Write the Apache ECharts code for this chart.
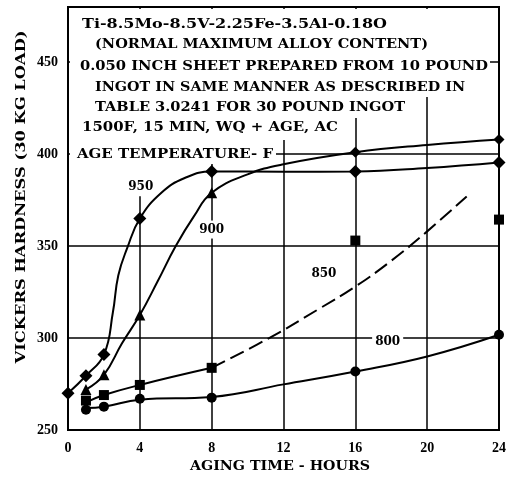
<!DOCTYPE html>
<html>
<head>
<meta charset="utf-8">
<script src="https://cdn.jsdelivr.net/npm/echarts@6/dist/echarts.min.js"></script>
<style>
  html, body { margin: 0; padding: 0; background: #fff; }
  #chart { width: 509px; height: 478px; }
</style>
</head>
<body>
<div id="chart"></div>
<script>
// aging time (hours) vs vickers hardness
var curve950 = [[0, 270], [1, 279.5], [2, 291], [2.5, 314], [2.8, 334], [3.3, 349], [4, 365], [5.2, 379], [6.5, 387], [8, 390.6], [12, 390.4], [16, 390.6], [20, 392.5], [24, 395.5]];
var curve900 = [[1, 272], [2, 280], [3, 297], [4, 312.5], [5, 331], [6, 350], [7, 366], [8, 379], [10, 389], [12, 394.5], [16, 401], [20, 405], [24, 408]];
var curve850 = [[1, 265], [2, 269], [4, 274.5], [8, 283.8]];
var curve850fit = [[8, 283.8], [11.2, 300], [14, 316], [16, 328], [18, 342], [20, 358], [22.2, 377]];
var curve800 = [[1, 262], [2, 262.7], [4, 266.5], [8, 268], [12, 274.8], [16, 281.8], [20, 290], [24, 301.8]];

var points950 = [[0, 270], [1, 279.5], [2, 291], [4, 365], [8, 390.6], [16, 390.6], [24, 395.5]];
var points900 = [[1, 272], [2, 280], [4, 312.5], [8, 379], [16, 401], [24, 408]];
var points850 = [[1, 266], [2, 269], [4, 274.5], [8, 283.8], [16, 353], [24, 364.4]];
var points800 = [[1, 261], [2, 262.7], [4, 267], [8, 267.6], [16, 281.8], [24, 301.8]];

var curveLabels = [["950", [4.05, 382]], ["900", [8, 359]], ["850", [14.25, 335]], ["800", [17.8, 298]]];

var noteLines = [
  "Ti-8.5Mo-8.5V-2.25Fe-3.5Al-0.18O",
  "(NORMAL MAXIMUM ALLOY CONTENT)",
  "0.050 INCH SHEET PREPARED FROM 10 POUND",
  "INGOT IN SAME MANNER AS DESCRIBED IN",
  "TABLE 3.0241 FOR 30 POUND INGOT",
  "1500F, 15 MIN, WQ + AGE, AC",
  "AGE TEMPERATURE- F"
];

var SERIF = "DejaVu Serif";
var TIMES = "Liberation Serif";

var chart = echarts.init(document.getElementById("chart"));

function curve(data, dashed) {
  return {
    type: "line",
    data: data,
    smooth: 0.45,
    showSymbol: false,
    silent: true,
    z: 3,
    lineStyle: { color: "#000", width: 2, type: dashed ? [15, 6] : "solid" }
  };
}

function marks(data, symbol, size) {
  return {
    type: "scatter",
    data: data,
    symbol: symbol,
    symbolSize: size,
    z: 4,
    itemStyle: { color: "#000", opacity: 1 }
  };
}

chart.setOption({
  animation: false,
  backgroundColor: "#fff",
  grid: {
    left: 68, right: 3, top: 7, bottom: 48,
    show: true, borderColor: "#000", borderWidth: 2
  },
  xAxis: {
    type: "value",
    min: 0, max: 24, interval: 4,
    axisLine: { lineStyle: { color: "#000", width: 2 } },
    axisTick: { show: false },
    splitLine: { lineStyle: { color: "#000", width: 1.5 } },
    axisLabel: { color: "#000", fontFamily: TIMES, fontWeight: "bold", fontSize: 14, margin: 11 }
  },
  yAxis: {
    type: "value",
    min: 250, max: 480, interval: 50,
    axisLine: { show: true, lineStyle: { color: "#000", width: 2 } },
    axisTick: { show: false },
    splitLine: { lineStyle: { color: "#000", width: 1.5 } },
    axisLabel: {
      color: "#000", fontFamily: TIMES, fontWeight: "bold", fontSize: 14, margin: 10,
      showMaxLabel: false,
      formatter: function (v) { return v % 50 === 0 ? String(v) : ""; }
    }
  },
  series: [
    curve(curve950),
    curve(curve900),
    curve(curve850),
    curve(curve850fit, true),
    curve(curve800),
    marks(points950, "diamond", 13),
    marks(points900, function (v) { return v[0] >= 16 ? "diamond" : "triangle"; }, 11),
    marks(points850, "rect", 10),
    marks(points800, "circle", 10)
  ]
});

// stretch text to the width it has in the scan
var ctx = document.createElement("canvas").getContext("2d");
function stretch(text, size, family, width) {
  ctx.font = "bold " + size + "px " + family;
  return width / ctx.measureText(text).width;
}

// note block sits on a white patch that hides the grid behind it
var graphics = [
  { type: "rect", z: 1, shape: { x: 70, y: 9, width: 420, height: 88 }, style: { fill: "#fff" } },
  { type: "rect", z: 1, shape: { x: 70, y: 96, width: 337, height: 22 }, style: { fill: "#fff" } },
  { type: "rect", z: 1, shape: { x: 70, y: 117, width: 270, height: 23 }, style: { fill: "#fff" } },
  { type: "rect", z: 1, shape: { x: 70, y: 139, width: 206, height: 25 }, style: { fill: "#fff" } },
  { type: "rect", z: 1, shape: { x: 128, y: 163, width: 28, height: 32 }, style: { fill: "#fff" } }
];
var noteX = [82, 95, 80, 95, 95, 82, 77];
var noteY = [25, 45, 67, 88, 108, 128, 155];
var noteW = [305, 333, 408, 370, 310, 256, 196];
noteLines.forEach(function (t, i) {
  graphics.push({
    type: "text", z: 2, x: noteX[i], y: noteY[i],
    scaleX: stretch(t, 13, SERIF, noteW[i]),
    style: { text: t, fill: "#000", fontFamily: SERIF, fontWeight: "bold", fontSize: 13, verticalAlign: "middle" }
  });
});
curveLabels.forEach(function (c) {
  var p = chart.convertToPixel({ gridIndex: 0 }, c[1]);
  graphics.push({
    type: "text", z: 2, x: p[0], y: p[1],
    style: {
      text: c[0], fill: "#000", fontFamily: SERIF, fontWeight: "bold", fontSize: 12,
      align: "center", verticalAlign: "middle", backgroundColor: "#fff", padding: [3, 3]
    }
  });
});
var yName = "VICKERS HARDNESS (30 KG LOAD)";
graphics.push({
  type: "text", z: 2, x: 22, y: 197, rotation: Math.PI / 2,
  scaleX: stretch(yName, 13, SERIF, 333),
  style: { text: yName, fill: "#000", fontFamily: SERIF, fontWeight: "bold", fontSize: 13, align: "center", verticalAlign: "middle" }
});
var xName = "AGING TIME - HOURS";
graphics.push({
  type: "text", z: 2, x: 280, y: 467,
  scaleX: stretch(xName, 13, SERIF, 180),
  style: { text: xName, fill: "#000", fontFamily: SERIF, fontWeight: "bold", fontSize: 13, align: "center", verticalAlign: "middle" }
});

chart.setOption({ graphic: graphics });
</script>
</body>
</html>
